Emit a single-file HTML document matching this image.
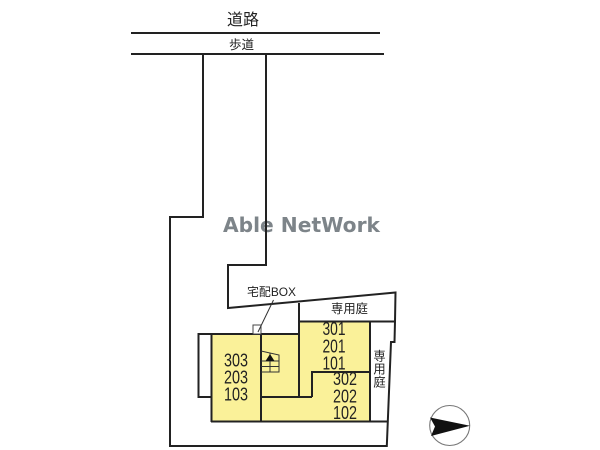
<!DOCTYPE html>
<html>
<head>
<meta charset="utf-8">
<style>
html,body{margin:0;padding:0;background:#fff;}
svg{display:block;filter:blur(.35px);}
text{font-family:"Liberation Sans","Noto Sans CJK JP",sans-serif;fill:#222;text-anchor:middle;}
</style>
</head>
<body>
<svg width="600" height="450" viewBox="0 0 600 450" xmlns="http://www.w3.org/2000/svg">
<rect width="600" height="450" fill="#fff"/>
<!-- watermark -->
<text x="301.5" y="232" font-size="20" font-weight="bold" textLength="157" lengthAdjust="spacingAndGlyphs" style="fill:#7d8489;font-family:'DejaVu Sans',sans-serif">Able NetWork</text>
<!-- yellow units -->
<polygon points="211.5,334 299,334 299,321.5 370,321.5 370,421.5 211.5,421.5" fill="#faf199"/>
<!-- road -->
<g stroke="#222" stroke-width="2" fill="none">
<line x1="131" y1="33" x2="380" y2="33"/>
<line x1="131" y1="54" x2="384" y2="54"/>
<!-- lot outline -->
<polyline points="203,54 203,217 170,217 170,446 386.8,446 387.8,421.5 391,342 394.5,342 395,321.5 395.5,292.5 228,308 228,265 266,265 266,54"/>
<!-- building -->
<polyline points="211.5,397 198.5,397 198.5,334 299,334"/>
<line x1="211.5" y1="334" x2="211.5" y2="422"/>
<line x1="211" y1="421.5" x2="388" y2="421.5"/>
<line x1="261" y1="334" x2="261" y2="422"/>
<line x1="261" y1="397" x2="312" y2="397"/>
<line x1="299" y1="303" x2="299" y2="397"/>
<line x1="299" y1="321.5" x2="395" y2="321.5"/>
<line x1="370" y1="321.5" x2="370" y2="422"/>
<polyline points="312,397 312,372 370,372"/>
</g>
<!-- delivery box -->
<rect x="253" y="325" width="8" height="9" fill="#fff" stroke="#444" stroke-width="1"/>
<line x1="273.5" y1="300" x2="258" y2="332" stroke="#333" stroke-width="1"/>
<!-- stairs -->
<g stroke="#333" stroke-width="1" fill="none">
<polyline points="261,351 279,355 279,372 261,372"/>
<line x1="261" y1="361" x2="279" y2="361"/>
<line x1="261" y1="366.5" x2="279" y2="366.5"/>
<line x1="270" y1="353" x2="270" y2="372"/>
</g>
<polygon points="270,354 265.5,361 274.5,361" fill="#111"/>
<!-- labels -->
<text x="243" y="25" font-size="16">道路</text>
<text x="241.5" y="49" font-size="12.5">歩道</text>
<text x="271.5" y="296" font-size="12" textLength="49" lengthAdjust="spacingAndGlyphs">宅配BOX</text>
<text x="349.5" y="313" font-size="12.3">専用庭</text>
<text x="379.5" y="360.5" font-size="12.3">専</text>
<text x="379.5" y="373.5" font-size="12.3">用</text>
<text x="379.5" y="386.5" font-size="12.3">庭</text>
<g font-size="18" lengthAdjust="spacingAndGlyphs">
<text x="236" y="366.5" textLength="24" lengthAdjust="spacingAndGlyphs">303</text>
<text x="236" y="383.5" textLength="24" lengthAdjust="spacingAndGlyphs">203</text>
<text x="236" y="400.5" textLength="24" lengthAdjust="spacingAndGlyphs">103</text>
<text x="334" y="335" textLength="23" lengthAdjust="spacingAndGlyphs">301</text>
<text x="334" y="352.5" textLength="23" lengthAdjust="spacingAndGlyphs">201</text>
<text x="334" y="369.5" textLength="23" lengthAdjust="spacingAndGlyphs">101</text>
<text x="345" y="385" textLength="24" lengthAdjust="spacingAndGlyphs">302</text>
<text x="345" y="402.5" textLength="24" lengthAdjust="spacingAndGlyphs">202</text>
<text x="345" y="419" textLength="24" lengthAdjust="spacingAndGlyphs">102</text>
</g>
<!-- north arrow -->
<circle cx="449.7" cy="425.5" r="20" fill="#fff" stroke="#777" stroke-width="1.1"/>
<polygon points="430,417.5 470,425.7 431,436 435,426.5" fill="#111"/>
</svg>
</body>
</html>
